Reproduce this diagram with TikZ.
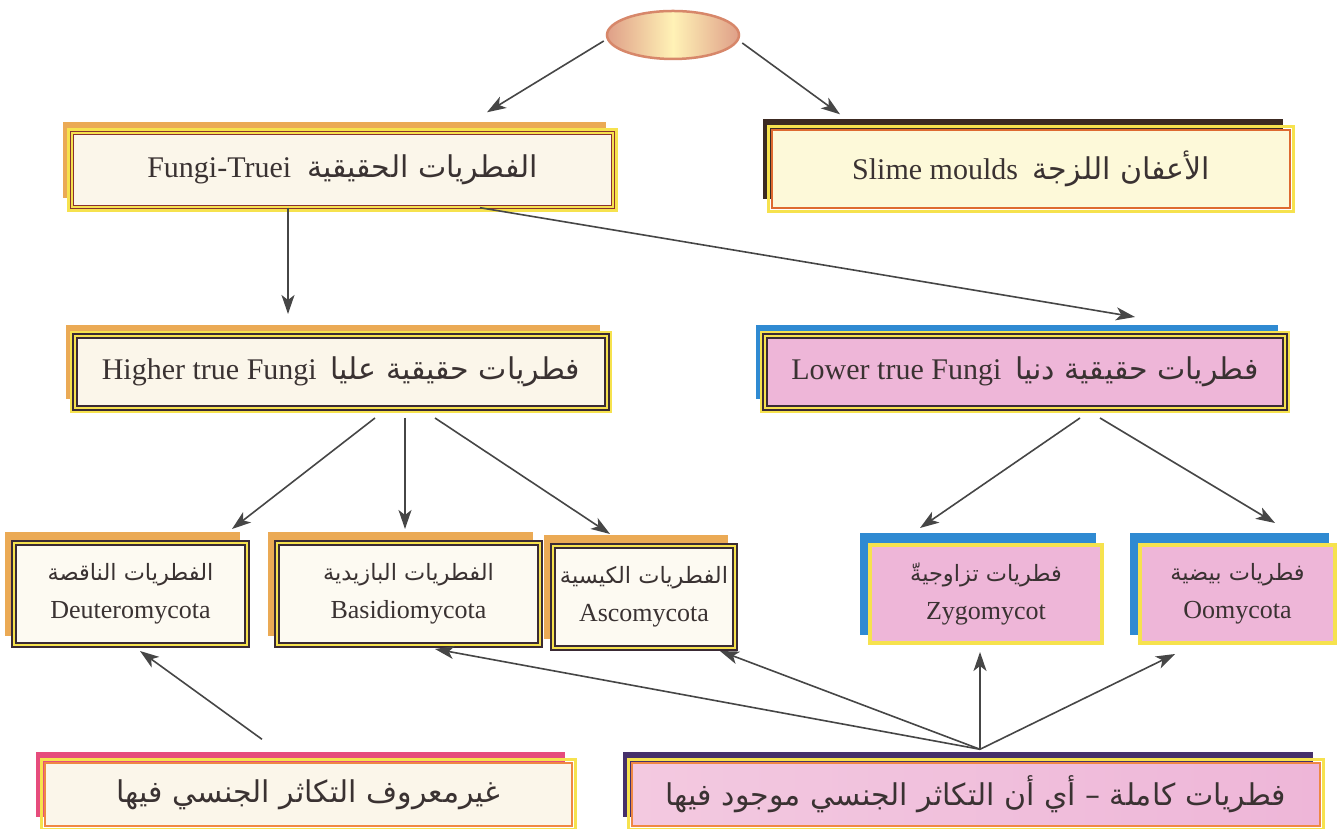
\documentclass[tikz,border=0pt]{standalone}
\usepackage{fontspec}
\setmainfont{Liberation Serif}
\newfontfamily\arabicfont[Script=Arabic]{DejaVu Sans}
\TeXXeTstate=1
\usetikzlibrary{shapes.geometric,arrows.meta,backgrounds}

\definecolor{inkC}{HTML}{3A3232}
\definecolor{arrowC}{HTML}{464646}
\definecolor{creamC}{HTML}{FBF6EA}
\definecolor{paleyC}{HTML}{FDF9D9}
\definecolor{pinkC}{HTML}{EEB6D8}
\definecolor{pinkL}{HTML}{F3C9E0}
\definecolor{yellowC}{HTML}{F6E24E}
\definecolor{darkredC}{HTML}{8A3030}
\definecolor{plumC}{HTML}{3A2A34}
\definecolor{orangeredC}{HTML}{DE6A30}
\definecolor{orangeC}{HTML}{EBAA55}
\definecolor{brownC}{HTML}{3C2A22}
\definecolor{blueC}{HTML}{2F8AD2}
\definecolor{roseC}{HTML}{E64C7C}
\definecolor{purpleC}{HTML}{46306A}
\definecolor{eggedge}{HTML}{D7876A}
\definecolor{eggmid}{HTML}{FFF2B6}

\newcommand\arab[1]{{\arabicfont\beginR #1\endR}}
\newcommand\arabsmall[1]{{\arabicfont\fontsize{22.5}{38}\selectfont\beginR #1\endR}}

% a box with a coloured block behind it and an optional outer frame
% #1 name, #2 centre, #3 width, #4 height, #5 block colour, #6 node style, #7 frame colour, #8 text
\newcommand\taxbox[8]{%
  \node[#6, minimum width=#3, minimum height=#4] (#1) at (#2) {#8};
  \begin{scope}[on background layer]
    \fill[#5] ([shift={(-8pt,10pt)}]#1.south west) rectangle ([shift={(-8pt,10pt)}]#1.north east);
    \draw[draw=#7, line width=3pt] ([shift={(-2.5pt,-2.5pt)}]#1.south west) rectangle ([shift={(2.5pt,2.5pt)}]#1.north east);
  \end{scope}}

\tikzset{
  txt/.style={text=inkC, inner sep=2pt, align=center},
  lat/.style={font=\fontsize{30}{34}\selectfont},
  truebox/.style={txt, lat, fill=creamC, draw=darkredC, line width=1.4pt, double=yellowC, double distance=1.2pt},
  slimebox/.style={txt, lat, fill=paleyC, draw=orangeredC, line width=1.4pt},
  darkbox/.style={txt, lat, fill=creamC, draw=plumC, line width=2pt, double=yellowC, double distance=1.6pt},
  lowbox/.style={darkbox, fill=pinkC},
  subbox/.style={darkbox, font=\fontsize{26}{38}\selectfont, fill=creamC!60!white},
  zygbox/.style={txt, font=\fontsize{26}{38}\selectfont, fill=pinkC, draw=yellowC, line width=4pt},
  footbox/.style={txt, font=\fontsize{30}{34}\selectfont, draw=orangeC!80!red, line width=1.4pt},
  link/.style={draw=arrowC, line width=1.6pt, -{Stealth[length=19pt, width=13pt, inset=5pt]}},
}

\begin{document}
\begin{tikzpicture}[x=1pt, y=1pt]
  \useasboundingbox (0,0) rectangle (1340,829);
  \begin{scope}[on background layer]
    \fill[white] (0,0) rectangle (1340,829);
  \end{scope}

  % root
  \node[ellipse, minimum width=132, minimum height=48, draw=eggedge, line width=2.5pt,
        left color=eggedge!80!white, right color=eggedge!80!white, middle color=eggmid] (root) at (673,794) {};

  % first level
  \taxbox{truei}{342.5,659}{541}{74}{orangeC}{truebox}{yellowC}
    {Fungi-Truei\hspace{16pt}\arab{الفطريات الحقيقية}}
  \taxbox{slime}{1031,660}{518}{78}{brownC}{slimebox}{yellowC}
    {Slime moulds\hspace{14pt}\arab{الأعفان اللزجة}}

  % second level
  \taxbox{higher}{341,457}{532}{72}{orangeC}{darkbox}{yellowC}
    {Higher true Fungi\hspace{14pt}\arab{فطريات حقيقية عليا}}
  \taxbox{lower}{1025,457}{520}{72}{blueC}{lowbox}{yellowC}
    {Lower true Fungi\hspace{14pt}\arab{فطريات حقيقية دنيا}}

  % divisions
  \taxbox{deutero}{130.5,235}{233}{102}{orangeC}{subbox}{none}
    {\arabsmall{الفطريات الناقصة}\\Deuteromycota}
  \taxbox{basidio}{408.5,235}{263}{102}{orangeC}{subbox}{none}
    {\arabsmall{الفطريات البازيدية}\\Basidiomycota}
  \taxbox{asco}{644,232}{182}{102}{orangeC}{subbox}{none}
    {\arabsmall{الفطريات الكيسية}\\Ascomycota}
  \taxbox{zygo}{986,235}{232}{98}{blueC}{zygbox}{none}
    {\arabsmall{فطريات تزاوجيةّ}\\Zygomycot}
  \taxbox{oomy}{1237.5,235}{195}{98}{blueC}{zygbox}{none}
    {\arabsmall{فطريات بيضية}\\Oomycota}

  % reproduction notes
  \taxbox{unknown}{308.5,34.5}{527}{63}{roseC}{footbox, fill=creamC}{yellowC}
    {\arab{غيرمعروف التكاثر الجنسي فيها}}
  \taxbox{complete}{976,34.5}{688}{63}{purpleC}{footbox, left color=pinkL, right color=pinkC}{yellowC}
    {\arab{فطريات كاملة – أي أن التكاثر الجنسي موجود فيها}}

  % hierarchy
  \draw[link] ([shift={(-2pt,-6pt)}]root.west) -- ([shift={(144.5pt,20pt)}]truei.north);
  \draw[link] ([shift={(2pt,-8pt)}]root.east) -- ([shift={(-191pt,15pt)}]slime.north);
  \draw[link] ([xshift=-54.5pt]truei.south) -- ([shift={(-53pt,21pt)}]higher.north);
  \draw[link] ([xshift=137.5pt]truei.south) -- ([shift={(110pt,18pt)}]lower.north);
  \draw[link] ([shift={(34pt,-9pt)}]higher.south) -- ([shift={(101.5pt,13pt)}]deutero.north);
  \draw[link] ([shift={(64pt,-9pt)}]higher.south) -- ([shift={(-3.5pt,13pt)}]basidio.north);
  \draw[link] ([shift={(94pt,-9pt)}]higher.south) -- ([shift={(-34pt,11pt)}]asco.north);
  \draw[link] ([shift={(55pt,-9pt)}]lower.south) -- ([shift={(-66pt,15pt)}]zygo.north);
  \draw[link] ([shift={(75pt,-9pt)}]lower.south) -- ([shift={(37.5pt,20pt)}]oomy.north);

  % reproduction links
  \draw[link] ([shift={(-46.5pt,23pt)}]unknown.north) -- ([shift={(9.5pt,-5pt)}]deutero.south);
  \coordinate (hub) at ([shift={(4pt,13pt)}]complete.north);
  \draw[link] (hub) -- ([shift={(26.5pt,-3pt)}]basidio.south);
  \draw[link] (hub) -- ([shift={(76pt,-2pt)}]asco.south);
  \draw[link] (hub) -- ([shift={(-6pt,-7pt)}]zygo.south);
  \draw[link] (hub) -- ([shift={(-62.5pt,-9pt)}]oomy.south);
\end{tikzpicture}
\end{document}
